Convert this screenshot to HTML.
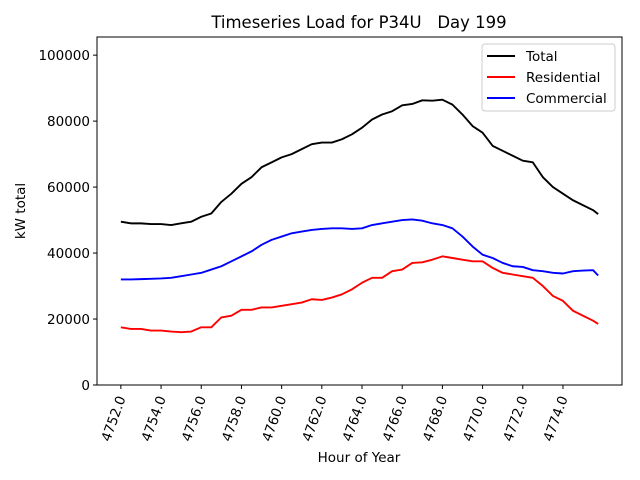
<!DOCTYPE html>
<html><head><meta charset="utf-8"><style>
html,body{margin:0;padding:0;background:#fff;}
svg{display:block;font-family:"DejaVu Sans","Liberation Sans",sans-serif;}
</style></head><body>
<svg id="chart" width="640" height="480" xmlns="http://www.w3.org/2000/svg">
<rect x="0" y="0" width="640" height="480" fill="#fff"/>
<text x="359" y="28" font-size="16.5" text-anchor="middle" style="white-space:pre">Timeseries Load for P34U&#160;&#160;&#160;Day 199</text>
<g id="grid"></g>
<g id="series"></g>
<rect x="97" y="37" width="525" height="348" fill="none" stroke="#000" stroke-width="1"/>
<g id="axes"></g>
<text x="359" y="462" font-size="13.5" text-anchor="middle">Hour of Year</text>
<text transform="translate(25,211) rotate(-90)" font-size="13.5" text-anchor="middle">kW total</text>
<g>
<rect x="482" y="44" width="133" height="67" rx="3" fill="#fff" fill-opacity="0.8" stroke="#ccc"/>
<line x1="487" y1="56" x2="515" y2="56" stroke="#000" stroke-width="2"/>
<text x="526" y="61" font-size="13.5">Total</text>
<line x1="487" y1="77" x2="515" y2="77" stroke="#f00" stroke-width="2"/>
<text x="526" y="82" font-size="13.5">Residential</text>
<line x1="487" y1="98" x2="515" y2="98" stroke="#00f" stroke-width="2"/>
<text x="526" y="103" font-size="13.5">Commercial</text>
</g>
</svg>
<script>
const hours = [4752,4752.5,4753,4753.5,4754,4754.5,4755,4755.5,4756,4756.5,4757,4757.5,4758,4758.5,4759,4759.5,4760,4760.5,4761,4761.5,4762,4762.5,4763,4763.5,4764,4764.5,4765,4765.5,4766,4766.5,4767,4767.5,4768,4768.5,4769,4769.5,4770,4770.5,4771,4771.5,4772,4772.5,4773,4773.5,4774,4774.5,4775,4775.5,4775.75];
const totalLoad = [49500,49000,49000,48800,48800,48500,49000,49500,51000,52000,55500,58000,61000,63000,66000,67500,69000,70000,71500,73000,73500,73500,74500,76000,78000,80500,82000,83000,84800,85200,86300,86200,86500,85000,82000,78500,76500,72500,71000,69500,68000,67500,63000,60000,58000,56000,54500,53000,51800];
const residentialLoad = [17500,17000,17000,16500,16500,16200,16000,16200,17500,17500,20500,21000,22800,22800,23500,23500,24000,24500,25000,26000,25800,26500,27500,29000,31000,32500,32500,34500,35000,37000,37200,38000,39000,38500,38000,37500,37500,35500,34000,33500,33000,32500,30000,27000,25500,22500,21000,19500,18500];
const commercialLoad = [32000,32000,32100,32200,32300,32500,33000,33500,34000,35000,36000,37500,39000,40500,42500,44000,45000,46000,46500,47000,47300,47500,47500,47300,47500,48500,49000,49500,50000,50200,49800,49000,48500,47500,45000,42000,39500,38500,37000,36000,35800,34800,34500,34000,33800,34500,34700,34800,33200];
const xTicks = [4752,4754,4756,4758,4760,4762,4764,4766,4768,4770,4772,4774];
const yTicks = [0,20000,40000,60000,80000,100000];

const NS='http://www.w3.org/2000/svg';
const X0=97,X1=622,Y0=385,Y1=37;
const xMin=4750.8125,xMax=4776.9375,yMin=0,yMax=105500;
function xs(v){return X0+(v-xMin)/(xMax-xMin)*(X1-X0);}
function ys(v){return Y0-(v-yMin)/(yMax-yMin)*(Y0-Y1);}
function mk(t,a){const e=document.createElementNS(NS,t);for(const k in a)e.setAttribute(k,a[k]);return e;}
const axes=document.getElementById('axes');
xTicks.forEach(t=>{
  const x=xs(t);
  const l=mk('line',{x1:x,y1:Y0,x2:x,y2:Y0+4,stroke:'#000'});
  
  
  axes.appendChild(l);
  const tx=mk('text',{transform:`translate(${x+5},${Y0+13}) rotate(-70)`,'font-size':'13.5','text-anchor':'end'});
  
  
  tx.textContent=t.toFixed(1);
  axes.appendChild(tx);
});
yTicks.forEach(t=>{
  const y=ys(t);
  const l=mk('line',{x1:X0-4,y1:y,x2:X0,y2:y,stroke:'#000'});
  
  
  axes.appendChild(l);
  const tx=mk('text',{x:X0-7,y:y+5,'font-size':'13.5','text-anchor':'end'});
  
  
  tx.textContent=String(t);
  axes.appendChild(tx);
});
const sg=document.getElementById('series');
[[totalLoad,'#000','total-line'],[residentialLoad,'#f00','residential-line'],[commercialLoad,'#00f','commercial-line']].forEach(([d,c,n])=>{
  const pts=d.map((v,i)=>xs(hours[i]).toFixed(2)+','+ys(v).toFixed(2)).join(' ');
  const p=mk('polyline',{points:pts,fill:'none',stroke:c,'stroke-width':'1.9','stroke-linejoin':'round'});
  
  
  sg.appendChild(p);
});
</script>
</body></html>
